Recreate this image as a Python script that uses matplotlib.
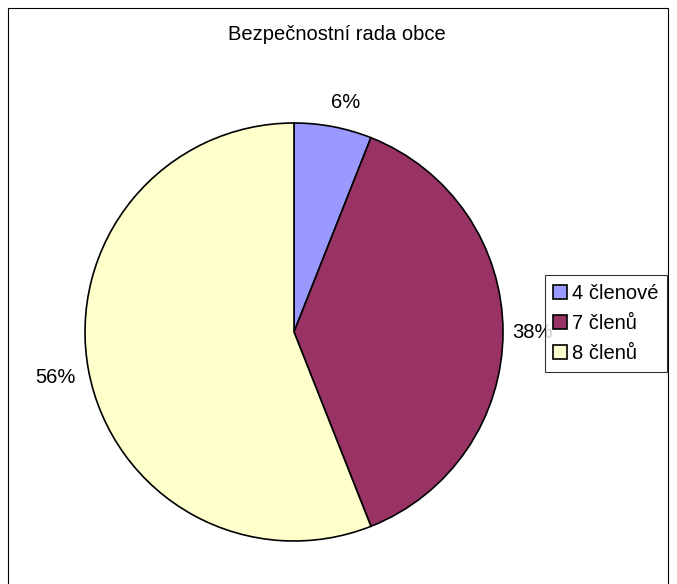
import numpy as np
import matplotlib
matplotlib.use("Agg")
import matplotlib.pyplot as plt
from matplotlib.patches import Rectangle

# data
title = "Bezpečnostní rada obce"
categories = ["4 členové", "7 členů", "8 členů"]
shares = [6, 38, 56]
colors = ["#9999FF", "#993366", "#FFFFCC"]
label_dist = [1.12, 1.14, 1.16]

plt.rcParams["font.family"] = ["Liberation Sans", "DejaVu Sans"]
FS = 14.5

W, H = 677, 584
fig = plt.figure(figsize=(W / 100, H / 100), dpi=100)

# pie axes: center (294, 332) px, radius 209 px
cx, cy, r = 294, 332, 209
ax = fig.add_axes([(cx - r) / W, (H - cy - r) / H, 2 * r / W, 2 * r / H])
wedges, _ = ax.pie(shares, colors=colors, startangle=90, counterclock=False,
                   radius=1, wedgeprops=dict(edgecolor="black", linewidth=1.2))
ax.set_xlim(-1, 1)
ax.set_ylim(-1, 1)
ax.set_aspect("equal")
ax.axis("off")

# percent labels outside the slices
total = sum(shares)
start = 0.0
for i, (v, d) in enumerate(zip(shares, label_dist)):
    mid = (start + v / 2) / total * 2 * np.pi
    x, y = d * np.sin(mid), d * np.cos(mid)
    if i == 0:
        x += 0.035  # Excel nudges the small label slightly right
    ax.text(x, y, f"{v / total * 100:.0f}%", ha="center", va="center", fontsize=FS, clip_on=False)
    start += v

fig.text(337 / W, 1 - 35 / H, title, ha="center", va="center", fontsize=FS)

leg = fig.legend(wedges, categories, loc="center left", bbox_to_anchor=(545 / W, 1 - 323.5 / H),
                 fontsize=FS, frameon=True, fancybox=False, borderaxespad=0,
                 handlelength=0.65, handleheight=0.65, handletextpad=0.25,
                 labelspacing=0.55, borderpad=0.42)
leg.get_frame().set_edgecolor("black")
leg.get_frame().set_linewidth(0.8)

# outer chart border
fig.add_artist(Rectangle((8 / W, -0.02), (668 - 8) / W, 1.02 - 8 / H, transform=fig.transFigure,
                         fill=False, edgecolor="black", linewidth=0.8))

fig.savefig("out.png", dpi=100)
plt.close(fig)
